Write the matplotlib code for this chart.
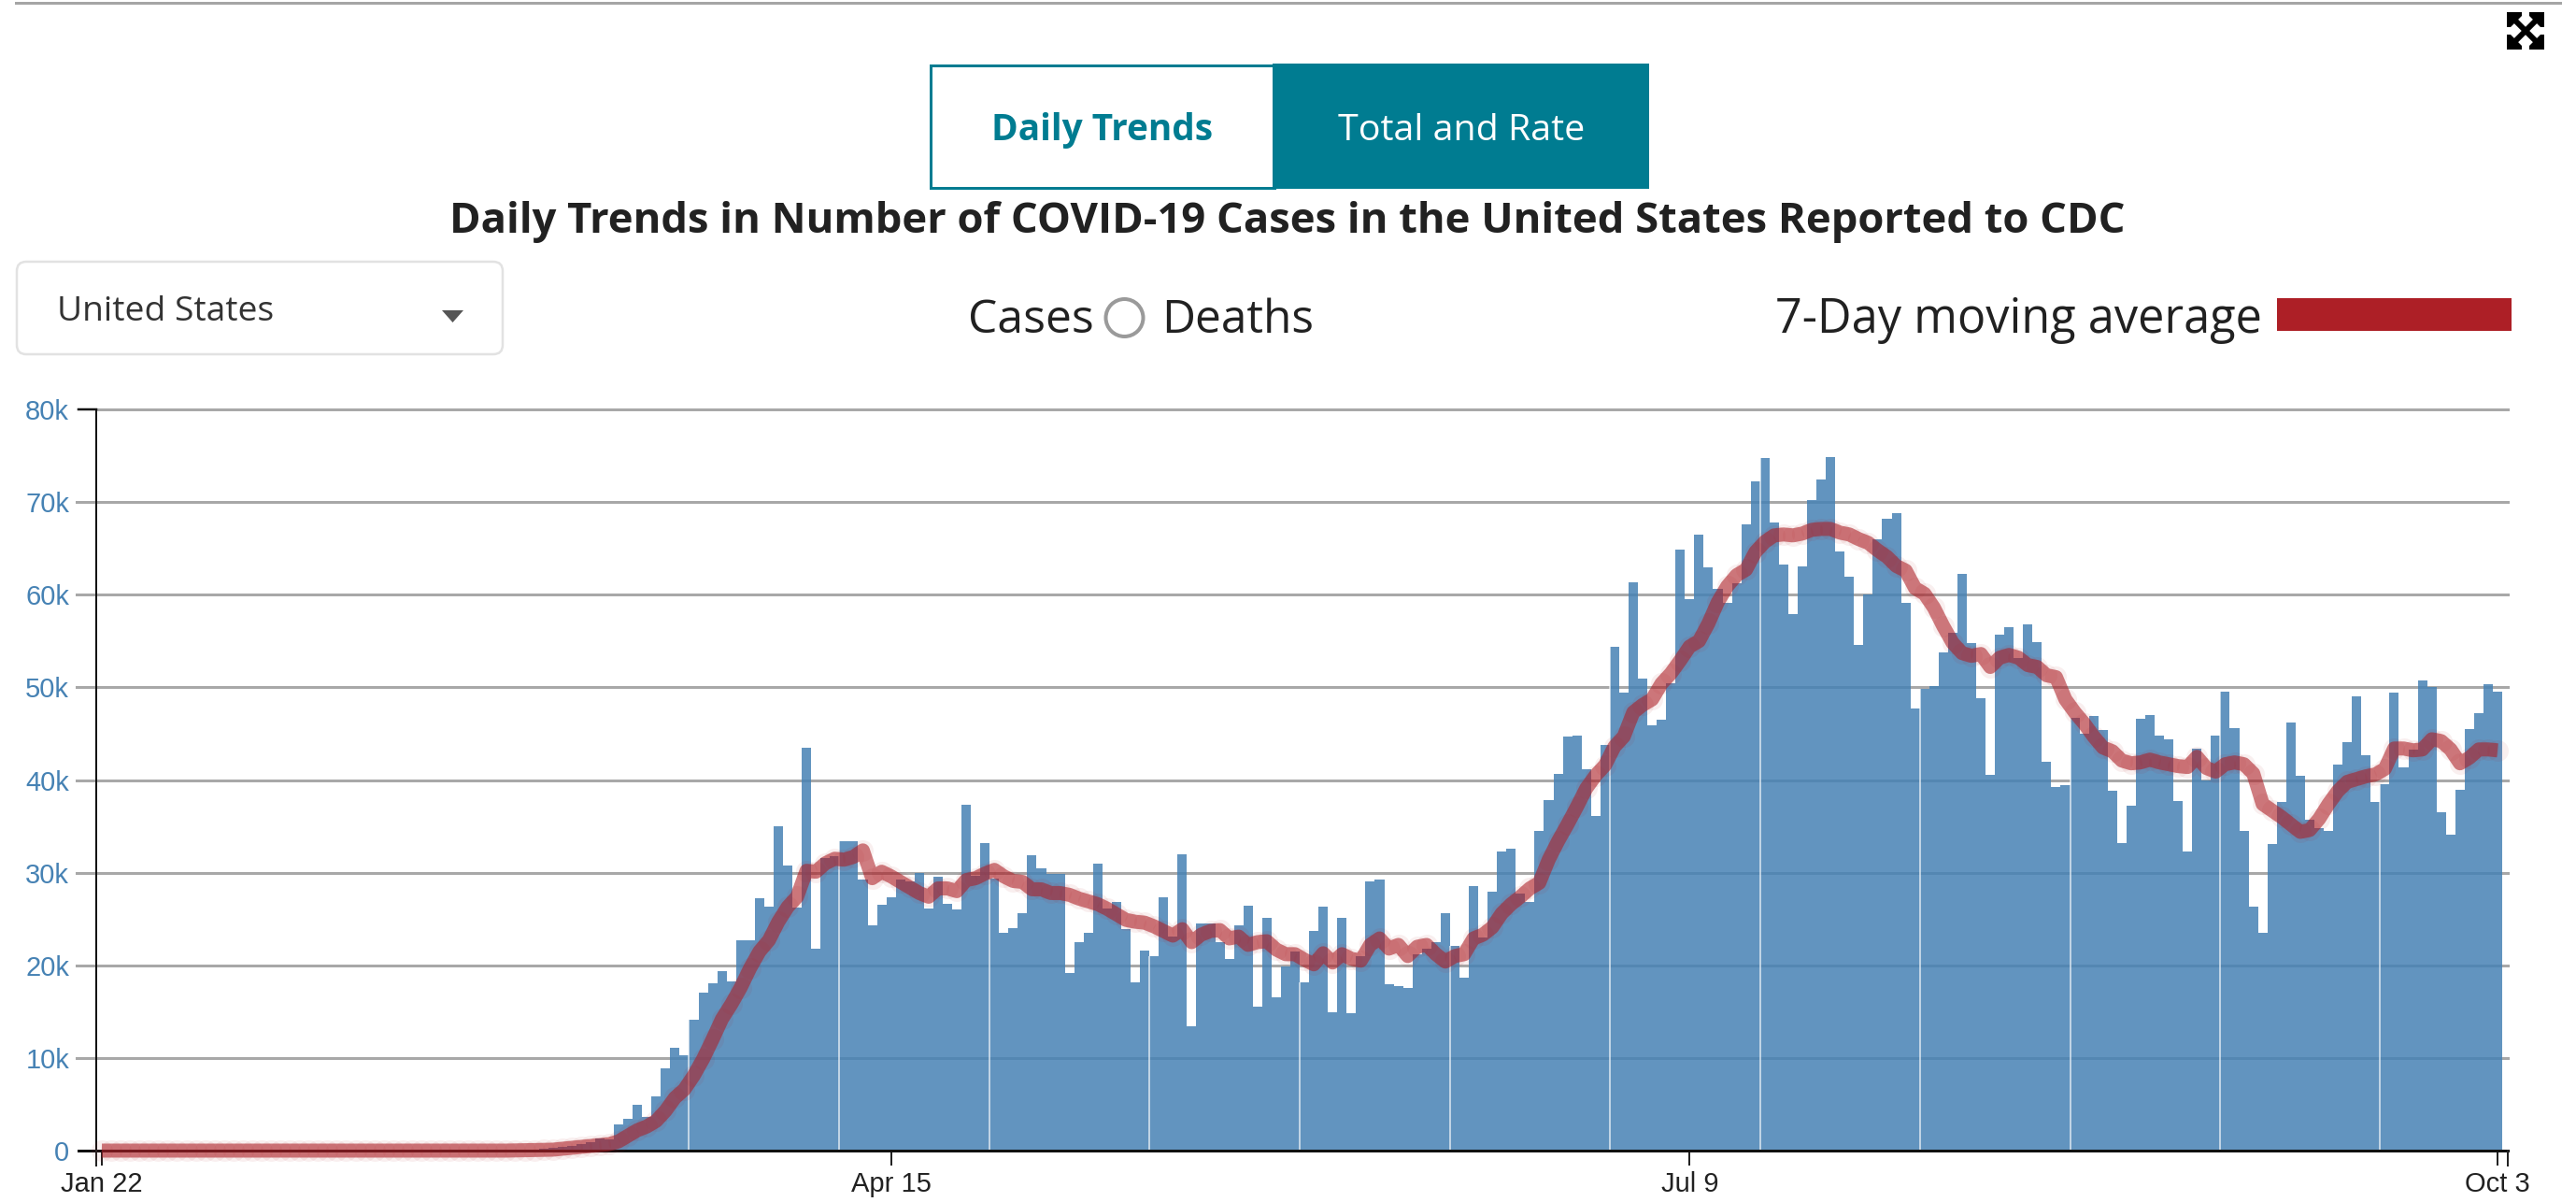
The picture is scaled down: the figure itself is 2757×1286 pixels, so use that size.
import numpy as np
import matplotlib
matplotlib.use("Agg")
import matplotlib.pyplot as plt
from matplotlib.patches import Rectangle, FancyBboxPatch, Circle, Polygon

# ---- data (thousands of cases per day), Jan 22 .. Oct 3
early_daily = [0]*38 + [.02,.02,.03,.04,.05,.06,.08,.1,.15,.2,.3,.4,.5,.7,.9]
daily_mar_jun = [1.3,1.2,2.8,3.4,4.9,3.6,5.9,8.9,11.1,10.3,14.1,17.0,18.1,19.4,18.3,22.7,22.7,27.2,26.3,35.0,
    30.8,26.2,43.5,21.8,31.6,31.8,33.4,33.4,29.3,24.3,26.5,27.3,29.3,29.1,30.0,26.1,29.6,26.6,26.0,37.3,
    29.7,33.2,29.4,23.5,24.0,25.6,31.9,30.5,29.9,29.9,19.2,22.5,23.5,31.0,26.1,26.8,23.9,18.2,21.6,21.0,
    27.3,23.1,32.0,13.4,24.5,24.5,22.5,20.7,24.3,26.4,15.5,25.1,16.5,19.9,21.5,18.2,23.7,26.3,14.9,25.1,
    14.8,21.0,29.1,29.3,18.0,17.8,17.6,21.2,21.8,22.5,25.6,22.1,18.7,28.5,23.0,27.9,32.3,32.6,27.7,26.8,
    34.5,37.8,40.7,44.7,44.8,41.2,36.1,43.8]
daily_jul_oct = [54.4,49.4,61.3,50.9,45.9,46.5,50.4,64.9,59.5,66.5,63.0,60.6,59.1,61.2,67.6,72.2,74.8,67.8,63.3,57.9,
    63.1,70.2,72.4,74.9,64.7,61.9,54.6,60.0,66.0,68.2,68.8,59.1,47.7,49.8,50.1,53.8,55.9,62.2,54.8,48.8,
    40.6,55.7,56.5,53.2,56.8,54.9,42.0,39.2,39.4,46.7,45.0,46.9,45.4,38.8,33.2,37.2,46.6,47.0,44.8,44.4,
    37.7,32.3,43.4,39.9,44.8,49.5,45.6,34.5,26.3,23.5,33.1,37.6,46.2,40.5,35.7,34.8,34.5,41.7,44.1,49.0,
    42.7,37.6,39.5,49.4,41.4,43.3,50.7,50.0,36.5,34.1,38.9,45.5,47.2,50.3,49.5]
daily_cases = np.array(early_daily + daily_mar_jun + daily_jul_oct) * 1000

early_avg = [0]*44 + [.02,.03,.05,.07,.1,.2,.3,.4,.5]
avg_mar_jun = [.6,.7,1.0,1.6,2.2,2.6,3.2,4.3,5.7,6.6,8.1,9.9,12.0,14.2,15.8,17.6,19.7,21.5,22.7,24.7,
    26.3,27.4,30.2,30.1,31.0,31.5,31.4,31.7,32.4,29.4,30.1,29.6,29.0,28.4,27.8,27.4,28.3,28.3,28.0,29.2,
    29.4,29.9,30.3,29.6,29.1,29.0,28.2,28.2,27.8,27.8,27.6,27.2,26.9,26.6,26.1,25.5,24.9,24.7,24.6,24.2,
    23.7,23.2,23.9,22.5,23.3,23.7,23.8,22.9,23.1,22.2,22.5,22.6,21.7,21.2,21.2,20.6,20.1,21.3,20.3,21.2,
    20.7,20.5,22.2,22.9,21.8,22.2,21.0,22.0,22.2,21.2,20.4,21.0,21.2,22.9,23.3,24.1,25.6,26.6,27.4,28.3,
    28.9,31.4,33.4,35.2,37.1,39.1,40.5,41.6]
avg_jul_oct = [43.6,44.7,47.3,48.1,48.7,50.4,51.5,52.9,54.4,55.0,56.9,59.2,60.9,62.1,62.7,64.6,65.7,66.4,66.5,66.4,
    66.6,67.0,67.1,67.1,66.7,66.5,66.0,65.6,64.8,64.1,63.1,62.6,60.7,60.1,58.6,56.6,54.8,53.7,53.4,53.6,
    52.2,53.2,53.5,53.2,52.4,52.2,51.3,51.1,48.7,47.3,46.1,44.7,43.5,43.1,42.1,41.8,41.9,42.2,41.9,41.7,
    41.5,41.4,42.5,41.3,40.9,41.7,41.9,41.7,40.7,37.4,36.7,36.0,35.2,34.4,34.6,35.8,37.4,38.8,39.8,40.1,
    40.4,40.6,41.2,43.4,43.4,43.2,43.3,44.4,44.2,43.3,41.8,42.4,43.3,43.3,43.2]
moving_avg = np.array(early_avg + avg_mar_jun + avg_jul_oct) * 1000

seam_days = [63, 79, 95, 112, 128, 144, 161, 177, 194, 210, 226, 243]
x_tick_days = [0, 84, 169, 255]
x_tick_labels = ["Jan 22", "Apr 15", "Jul 9", "Oct 3"]
y_tick_values = [0, 10000, 20000, 30000, 40000, 50000, 60000, 70000, 80000]
y_tick_labels = ["0", "10k", "20k", "30k", "40k", "50k", "60k", "70k", "80k"]

# ---- colours
BLUE = "#4682b4"; RED = "#ad1f26"; TEAL = "#007c91"; INK = "#212121"; GRID = "#a8a8a8"

W, H = 2757, 1286
DPI = 100
px = 72 / DPI  # one pixel, in points
fig = plt.figure(figsize=(W / DPI, H / DPI), dpi=DPI, facecolor="white")

# page layer in pixel coordinates
page = fig.add_axes([0, 0, 1, 1], zorder=0)
page.set_xlim(0, W); page.set_ylim(H, 0); page.axis("off")

# chart layer
AX_L, AX_R, AX_T, AX_B = 103, 2684, 438, 1231
ax = fig.add_axes([AX_L / W, 1 - AX_B / H, (AX_R - AX_L) / W, (AX_B - AX_T) / H], zorder=1)
ax.patch.set_alpha(0)
BAR_L, BAR_W = 104, 10.055
ax.set_xlim((AX_L - BAR_L) / BAR_W - .5, (AX_R - BAR_L) / BAR_W - .5)
ax.set_ylim(0, 80000)
for s in ax.spines.values():
    s.set_visible(False)

days = np.arange(len(daily_cases))
ax.set_yticks(y_tick_values, y_tick_labels, family="Liberation Sans", fontsize=21, color=BLUE)
ax.set_xticks(x_tick_days, x_tick_labels, family="Liberation Sans", fontsize=21, color=INK)
ax.tick_params(axis="y", length=0, pad=29 * px)
ax.tick_params(axis="x", length=16 * px, width=2 * px, color="#222222", pad=6 * px)

# horizontal grid, extended left over the tick area
trans = ax.get_yaxis_transform()
for v in y_tick_values[1:-1]:
    ax.plot([(82 - AX_L) / (AX_R - AX_L), 1], [v, v], transform=trans, color=GRID, lw=3 * px, clip_on=False, zorder=1)
ax.plot([0, 1], [80000, 80000], transform=trans, color=GRID, lw=3 * px, clip_on=False, zorder=1)

ax.bar(days, daily_cases, width=1.0, color=BLUE, alpha=.85, linewidth=0, zorder=2)
ax.vlines(np.array(seam_days) - .5, 0, daily_cases[seam_days], color="white", lw=1.6 * px, alpha=.75, zorder=3)

# axis lines
ax.plot([(84 - AX_L) / (AX_R - AX_L), 1], [0, 0], transform=trans, color="#111111", lw=3 * px, clip_on=False, zorder=4)
ax.plot([(84 - AX_L) / (AX_R - AX_L), 0], [80000, 80000], transform=trans, color="#111111", lw=2.5 * px, clip_on=False, zorder=4)
ax.plot([0, 0], [0, 80000], transform=trans, color="#111111", lw=2 * px, clip_on=False, zorder=4)
for edge in (0, 1):
    ax.plot([edge, edge], [0, -16 / (AX_B - AX_T)], transform=ax.transAxes, color="#222222", lw=2 * px, clip_on=False, zorder=4)

# moving average: pale halo of dots and a thick translucent stroke
ax.plot(days, moving_avg, ls="none", marker="o", ms=23 * px, mfc=RED, mec="none", alpha=.07, clip_on=False, zorder=5)
ax.plot(days, moving_avg, color=RED, lw=15 * px, alpha=.58, solid_capstyle="butt", solid_joinstyle="round", clip_on=False, zorder=6)

# ---- page furniture
def fitted(x0, x1, baseline, s, color, weight="normal", family="Open Sans"):
    """Text whose width is scaled to span x0..x1 on the page."""
    t = page.text((x0 + x1) / 2, baseline, s, color=color, fontweight=weight, family=family,
                  ha="center", va="baseline", fontsize=20, zorder=3)
    w = t.get_window_extent(fig.canvas.get_renderer()).width
    t.set_fontsize(20 * (x1 - x0) / w)
    return t

page.add_patch(Rectangle((16, 2), 2726, 3, color="#a5a5a5", lw=0))

# toggle buttons
page.add_patch(Rectangle((995.5, 69.5), 368, 131, fc="white", ec=TEAL, lw=3 * px))
page.add_patch(Rectangle((1362, 68), 402.5, 134, fc=TEAL, lw=0))
fitted(1061, 1298, 150, "Daily Trends", TEAL, weight="bold")
fitted(1432, 1696, 150, "Total and Rate", "white")

fitted(480, 2276, 249, "Daily Trends in Number of COVID-19 Cases in the United States Reported to CDC", INK, weight="bold")

# dropdown
page.add_patch(FancyBboxPatch((26, 288), 504, 83, boxstyle="round,pad=8,rounding_size=10", fc="white", ec="#e2e2e2", lw=2.5 * px))
fitted(62, 293, 343, "United States", "#333333")
page.add_patch(Polygon([(473, 332), (496, 332), (484.5, 345)], fc="#555555", lw=0))

# radio toggle and legend
fitted(1036, 1170, 356, "Cases", INK)
page.add_patch(Circle((1203.5, 340), 20, fc="white", ec="#9a9a9a", lw=4 * px))
fitted(1243, 1406, 356, "Deaths", INK)
fitted(1900, 2420, 356, "7-Day moving average", INK)
page.add_patch(Rectangle((2437, 319), 251, 35, fc=RED, lw=0))

# expand icon
cx, cy, r = 2703, 33, 15
for sx in (-1, 1):
    for sy in (-1, 1):
        page.plot([cx, cx + sx * r], [cy, cy + sy * r], color="black", lw=6 * px, solid_capstyle="butt")
        page.add_patch(Polygon([(cx + sx * 20, cy + sy * 20), (cx + sx * 4, cy + sy * 20), (cx + sx * 4, cy + sy * 16),
                                (cx + sx * 16, cy + sy * 4), (cx + sx * 20, cy + sy * 4)], fc="black", lw=0))

fig.savefig("out.png", dpi=DPI, facecolor="white")
